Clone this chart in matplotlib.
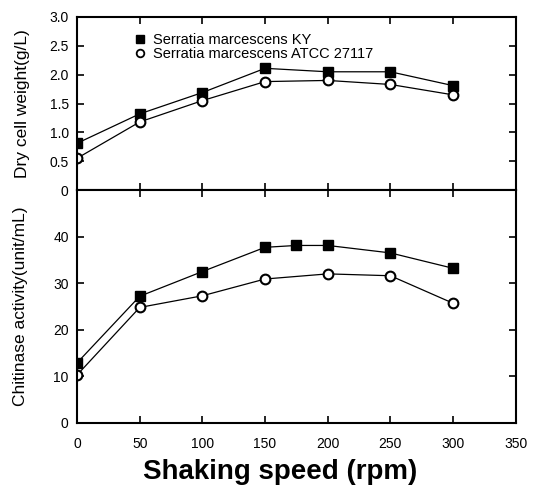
import matplotlib
matplotlib.use('Agg')
import matplotlib.pyplot as plt
from matplotlib.lines import Line2D

plt.rcParams['font.family'] = ['Liberation Sans', 'DejaVu Sans']

# Дані
speed_ky = [0, 50, 100, 150, 200, 250, 300]
dcw_ky = [0.81, 1.32, 1.69, 2.11, 2.05, 2.05, 1.81]
speed_atcc = [0, 50, 100, 150, 200, 250, 300]
dcw_atcc = [0.55, 1.18, 1.55, 1.88, 1.90, 1.83, 1.65]

speed_chi_ky = [0, 50, 100, 150, 175, 200, 250, 300]
chi_ky = [12.9, 27.2, 32.5, 37.7, 38.1, 38.1, 36.5, 33.2]
speed_chi_atcc = [0, 50, 100, 150, 200, 250, 300]
chi_atcc = [10.3, 24.8, 27.3, 30.9, 32.0, 31.6, 25.7]

x_ticks = [0, 50, 100, 150, 200, 250, 300, 350]
dcw_ticks = [0, 0.5, 1.0, 1.5, 2.0, 2.5, 3.0]
dcw_labels = ['0', '0.5', '1.0', '1.5', '2.0', '2.5', '3.0']
chi_ticks = [0, 10, 20, 30, 40]
legend_labels = ['Serratia marcescens KY', 'Serratia marcescens ATCC 27117']

fig = plt.figure(figsize=(5.35, 5.0), dpi=100)
ax1 = fig.add_axes([0.144, 0.62, 0.820, 0.346])
ax2 = fig.add_axes([0.144, 0.154, 0.820, 0.466])

sq = dict(marker='s', color='black', markersize=7, linewidth=0.9,
          markerfacecolor='black', markeredgecolor='black')
ci = dict(marker='o', color='black', markersize=7, linewidth=0.9,
          markerfacecolor='white', markeredgecolor='black', markeredgewidth=1.5)

ax1.plot(speed_ky, dcw_ky, **sq)
ax1.plot(speed_atcc, dcw_atcc, **ci)
ax2.plot(speed_chi_ky, chi_ky, **sq)
ax2.plot(speed_chi_atcc, chi_atcc, **ci)

for ax in (ax1, ax2):
    ax.set_xlim(0, 350)
    ax.set_xticks(x_ticks)
    ax.tick_params(direction='in', length=5, width=1.2, top=True, right=True,
                   labelsize=10, pad=6)
    for s in ax.spines.values():
        s.set_linewidth(1.5)

ax1.set_ylim(0, 3.0)
ax1.set_yticks(dcw_ticks)
ax1.set_yticklabels(dcw_labels)
ax1.tick_params(labelbottom=False)
ax1.set_ylabel('Dry cell weight(g/L)', fontsize=12.5, labelpad=14)

ax2.set_ylim(0, 50)
ax2.set_yticks(chi_ticks)
ax2.set_ylabel('Chitinase activity(unit/mL)', fontsize=12.5, labelpad=18)
ax2.set_xlabel('Shaking speed (rpm)', fontsize=20, fontweight='bold')
ax2.xaxis.set_label_coords(0.462, -0.155)
ax2.tick_params(axis='x', pad=10)

handles = [Line2D([], [], linestyle='none', marker='s', markersize=6,
                  markerfacecolor='black', markeredgecolor='black'),
           Line2D([], [], linestyle='none', marker='o', markersize=5.5,
                  markerfacecolor='white', markeredgecolor='black',
                  markeredgewidth=1.3)]
ax1.legend(handles, legend_labels, loc='upper left', bbox_to_anchor=(0.11, 0.96),
           frameon=False, fontsize=10.5, handlelength=0.8, handletextpad=0.5,
           labelspacing=0.05, borderaxespad=0.2)

fig.savefig('out.png', dpi=100)
